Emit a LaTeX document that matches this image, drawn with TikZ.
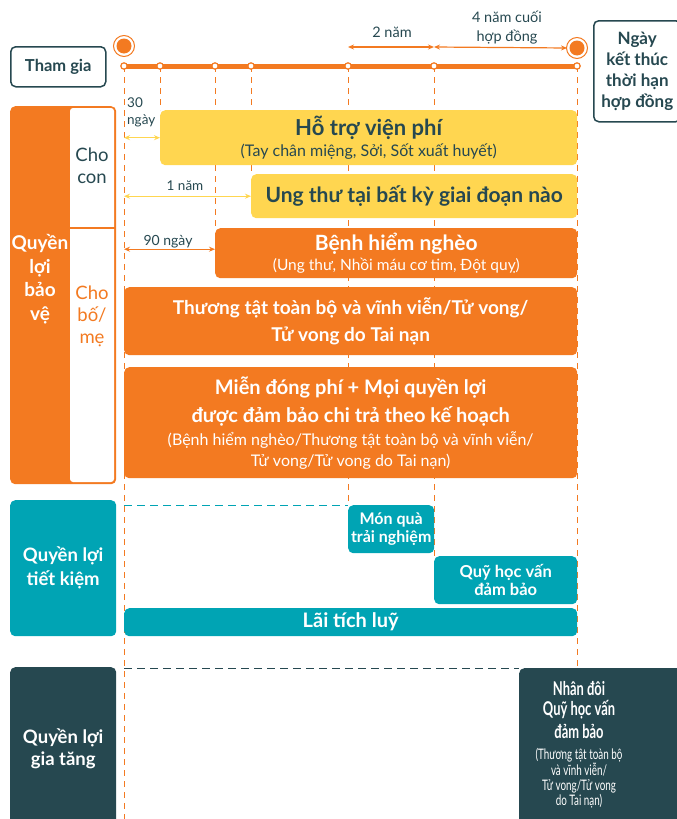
\documentclass[tikz,border=0pt]{standalone}
\usepackage{fontspec}
\setmainfont{Lato}
\usetikzlibrary{arrows.meta}
\definecolor{cam}{RGB}{243,122,33}
\definecolor{vang}{RGB}{255,214,80}
\definecolor{xanh}{RGB}{0,164,180}
\definecolor{dam}{RGB}{38,72,80}
\pgfdeclarelayer{bg}
\pgfsetlayers{bg,main}
\tikzset{
  box/.style={rounded corners=5pt, inner sep=0pt, align=center, anchor=north west},
  odash/.style={cam, line width=1pt, dash pattern=on 6pt off 5pt},
  tdash/.style={xanh, line width=1pt, dash pattern=on 8pt off 5pt},
  ddash/.style={dam, line width=1pt, dash pattern=on 8pt off 5pt},
  tip/.style={{Stealth[length=6pt,width=5pt]}-{Stealth[length=6pt,width=5pt]}, line width=1.2pt},
  lbl/.style={text=dam, align=center, inner sep=0pt, font=\fontsize{14.5}{19}\selectfont},
}
\newcommand{\tieude}{\bfseries\fontsize{21}{23}\selectfont}

\begin{document}
\begin{tikzpicture}[x=1pt,y=-1pt]
  %%%%% START %%%%%
  \useasboundingbox (0,0) rectangle (677,819);
  \clip (0,0) rectangle (677,819);

  \foreach \n/\x in {0/124,1/160,2/215,3/251,4/348,5/434,6/577}
    \coordinate (t\n) at (\x,66);

  \node[box, draw=dam, line width=1.5pt, fill=white, minimum width=95, minimum height=40,
    text=dam, font=\bfseries\fontsize{16.5}{17}\selectfont] (thamgia) at (10,46) {Tham gia};
  \node[box, draw=dam, line width=1.5pt, fill=white, minimum width=87, minimum height=101,
    text=dam, font=\bfseries\fontsize{17}{21}\selectfont] (ketthuc) at (593,20)
    {Ngày\\kết thúc\\thời hạn\\hợp đồng};

  % cot trai
  \node[box, fill=cam, minimum width=106, minimum height=378] (baove) at (10,106) {};
  \fill[white, rounded corners=3pt] (70,108) rectangle (114,482);
  \draw[cam, line width=2pt] (70,228) -- (116,228);
  \node[text=white, align=center, font=\bfseries\fontsize{19}{23.5}\selectfont] (baovetxt) at (40,279)
    {Quyền\\lợi\\bảo\\vệ};
  \node[text=dam, align=center, font=\fontsize{18.5}{22}\selectfont] (chocon) at (92,166) {Cho\\con};
  \node[text=cam, align=center, font=\fontsize{18.5}{22}\selectfont] (chobo) at (92,316) {Cho\\bố/\\mẹ};
  \node[box, fill=xanh, minimum width=106, minimum height=136, text=white,
    font=\bfseries\fontsize{18.5}{24}\selectfont] (tietkiem) at (10,500) {Quyền lợi\\tiết kiệm};
  \node[box, fill=dam, minimum width=106, minimum height=163, text=white,
    font=\bfseries\fontsize{18.5}{22}\selectfont] (giatang) at (10,667) {Quyền lợi\\gia tăng};

  % quyen loi bao ve
  \node[box, fill=vang, text=dam, minimum width=417, minimum height=55, font=\fontsize{16}{21}\selectfont] (vienphi) at (160,110)
    {{\bfseries\fontsize{22}{23}\selectfont Hỗ trợ viện phí}\\[0pt](Tay chân miệng, Sởi, Sốt xuất huyết)};
  \node[box, fill=vang, text=dam, minimum width=326, minimum height=44, font=\tieude] (ungthu) at (251,174)
    {Ung thư tại bất kỳ giai đoạn nào};
  \node[box, fill=cam, text=white, minimum width=362, minimum height=50, font=\fontsize{15.5}{20}\selectfont] (hiemngheo) at (215,228)
    {{\tieude Bệnh hiểm nghèo}\\[0pt](Ung thư, Nhồi máu cơ tim, Đột quỵ)};
  \node[box, fill=cam, text=white, minimum width=453, minimum height=68,
    font=\bfseries\fontsize{19}{27}\selectfont] (thuongtat) at (124,287)
    {Thương tật toàn bộ và vĩnh viễn/Tử vong/\\Tử vong do Tai nạn};
  \node[box, fill=cam, text=white, minimum width=453, minimum height=111, font=\fontsize{16}{21}\selectfont] (mienphi) at (124,367)
    {{\bfseries\fontsize{20}{28}\selectfont Miễn đóng phí + Mọi quyền lợi}\\[7pt]
     {\bfseries\fontsize{20}{28}\selectfont được đảm bảo chi trả theo kế hoạch}\\[2pt]
     (Bệnh hiểm nghèo/Thương tật toàn bộ và vĩnh viễn/\\Tử vong/Tử vong do Tai nạn)};

  % quyen loi tiet kiem
  \node[box, fill=xanh, text=white, minimum width=86, minimum height=48,
    font=\bfseries\fontsize{16}{18}\selectfont] (monqua) at (348,505) {Món quà\\trải nghiệm};
  \node[box, fill=xanh, text=white, minimum width=143, minimum height=48,
    font=\bfseries\fontsize{16.5}{18}\selectfont] (quyhoc) at (434,556) {Quỹ học vấn\\đảm bảo};
  \node[box, fill=xanh, text=white, minimum width=453, minimum height=28,
    font=\bfseries\fontsize{20}{20}\selectfont] (laitich) at (124,608) {Lãi tích luỹ};

  % quyen loi gia tang
  \node[box, fill=dam, minimum width=170, minimum height=165] (nhandoi) at (519,668) {};
  \node[text=white, align=center, xscale=0.68, transform shape, font=\fontsize{14.5}{15}\selectfont] (nhandoitxt) at (579,745)
    {{\bfseries\fontsize{19}{22}\selectfont Nhân đôi}\\[4pt]{\bfseries\fontsize{19}{22}\selectfont Quỹ học vấn}\\[4pt]
     {\bfseries\fontsize{19}{22}\selectfont đảm bảo}\\[6pt](Thương tật toàn bộ\\và vĩnh viễn/\\Tử vong/Tử vong\\do Tai nạn)};

  % duong doc
  \begin{pgfonlayer}{bg}
    \draw[odash] (t0) -- (124,819);
    \draw[odash] (t1) -- (vienphi.north -| t1);
    \draw[odash] (t2) -- (hiemngheo.north -| t2);
    \draw[odash] (t3) -- (ungthu.north -| t3);
    \draw[odash] (t4) -- (monqua.north west);
    \draw[odash] (t5) -- (quyhoc.north west);
    \draw[odash] (t6) -- (t6 |- nhandoi.north);
  \end{pgfonlayer}
  \draw[tdash] (monqua.north west -| t0) -- (monqua.north west);
  \draw[ddash] (nhandoi.north west -| t0) -- (nhandoi.north west);

  % truc thoi gian
  \draw[cam, line width=5pt] (t0) -- (t6);
  \foreach \n in {0,...,6}
    \draw[cam, fill=white, line width=1.2pt] (t\n) circle (3.2);
  \coordinate (batdau) at (124,46);
  \coordinate (ketmoc) at (577,48);
  \draw[cam, fill=white, line width=1pt] (batdau) circle (10.5);
  \fill[cam] (batdau) circle (7.5);
  \draw[cam, fill=white, line width=1pt] (ketmoc) circle (10.5);
  \fill[cam] (ketmoc) circle (7.5);

  % khoang thoi gian
  \draw[cam, tip] ([yshift=19pt]t4) -- ([yshift=19pt]t5);
  \draw[cam, tip] ([yshift=19pt]t5) -- ([xshift=-10pt]ketmoc);
  \node[lbl] (hainam) at (392,32) {2 năm};
  \node[lbl] (bonnam) at (507,28) {4 năm cuối\\hợp đồng};

  \draw[vang, tip] (vienphi.west -| t0) -- (vienphi.west);
  \node[lbl, align=left, anchor=north west, font=\fontsize{13.5}{17}\selectfont] (bamuoi) at (127,98) {30\\ngày};
  \draw[vang, tip] (ungthu.west -| t0) -- (ungthu.west);
  \node[lbl, font=\fontsize{13.5}{17}\selectfont] (motnam) at (185,186) {1 năm};
  \draw[cam, tip] ([yshift=4pt]hiemngheo.west -| t0) -- ([yshift=4pt]hiemngheo.west);
  \node[lbl, font=\fontsize{14}{17}\selectfont] (chinmuoi) at (168,242) {90 ngày};
  %%%%% END %%%%%
\end{tikzpicture}
\end{document}
